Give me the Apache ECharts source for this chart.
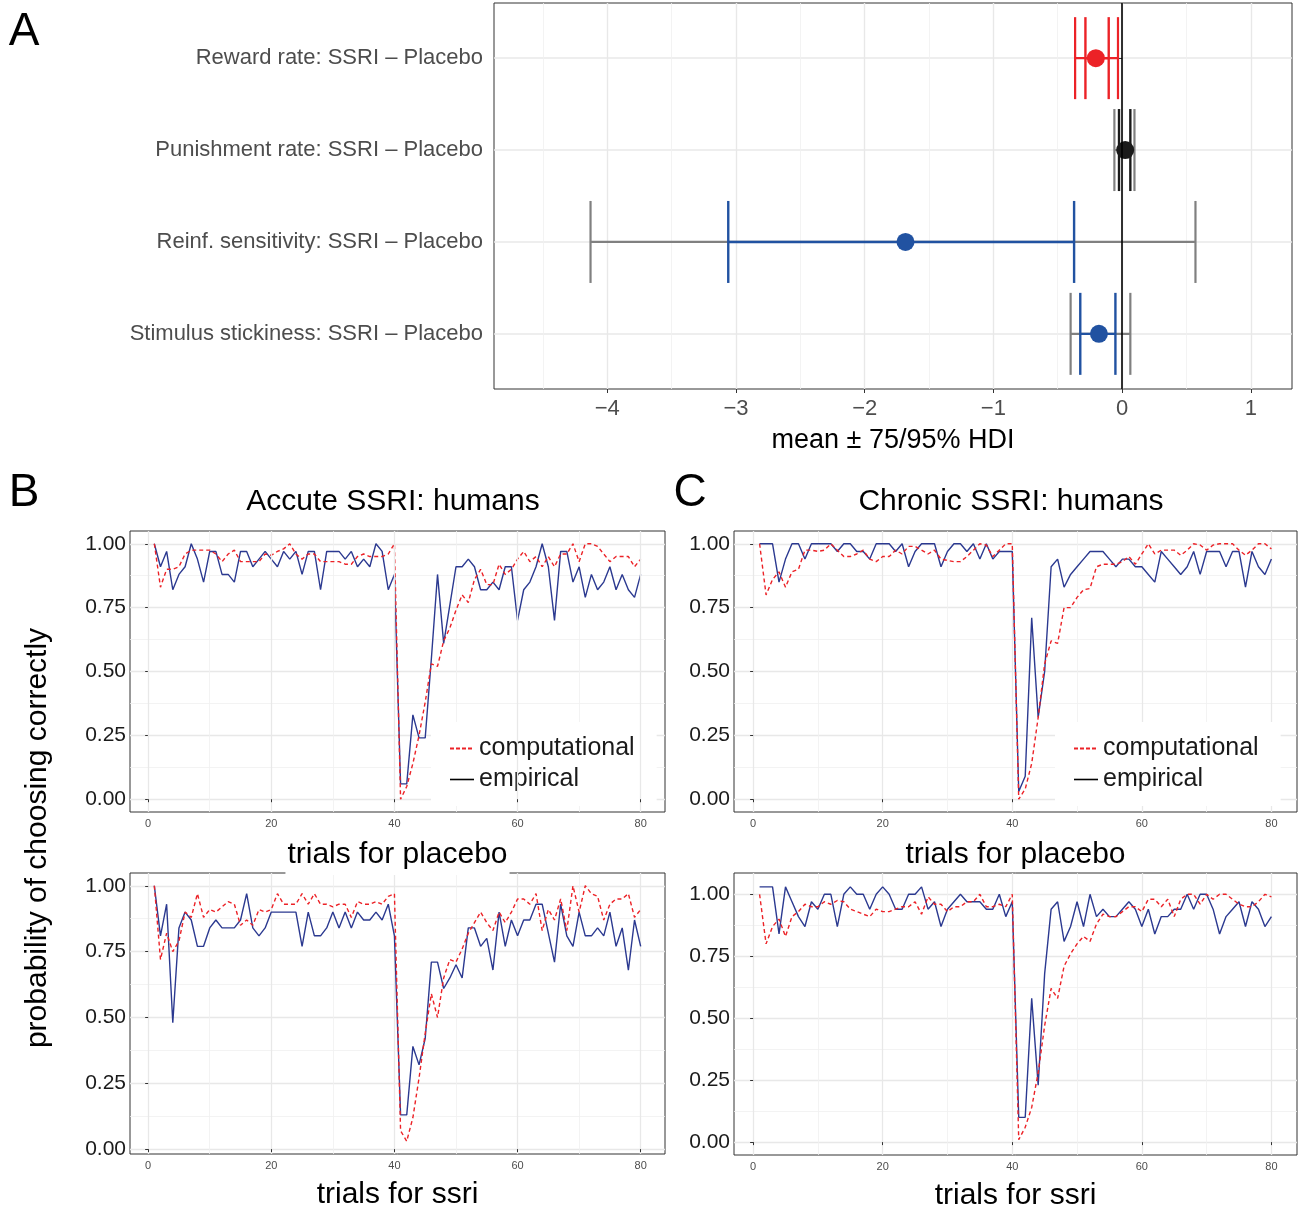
<!DOCTYPE html>
<html>
<head>
<meta charset="utf-8">
<script src="https://cdn.jsdelivr.net/npm/echarts@6/dist/echarts.min.js"></script>
<style>
  html, body { margin: 0; padding: 0; background: #fff; }
  #chart { width: 1298px; height: 1207px; }
</style>
</head>
<body>
<div id="chart"></div>
<script>
// ---- panel A: posterior differences ----
const rowLabels = [
  'Reward rate: SSRI \u2013 Placebo',
  'Punishment rate: SSRI \u2013 Placebo',
  'Reinf. sensitivity: SSRI \u2013 Placebo',
  'Stimulus stickiness: SSRI \u2013 Placebo'
]
const hdiMean = [-0.204, 0.024, -1.683, -0.18]
const hdi95Low = [-0.365, -0.06, -4.13, -0.40]
const hdi95High = [-0.032, 0.096, 0.57, 0.064]
const hdi75Low = [-0.285, -0.024, -3.06, -0.325]
const hdi75High = [-0.104, 0.064, -0.373, -0.052]
const hdiTicks = [-4, -3, -2, -1, 0, 1]
const hdiMinorTicks = [-4.5, -3.5, -2.5, -1.5, -0.5, 0.5]

// ---- panels B/C: probability of choosing correctly ----
const trials = Array.from({length: 80}, (_, i) => i + 1)
const trialTicks = [0, 20, 40, 60, 80]
const trialMinorTicks = [10, 30, 50, 70]
const probTicks = [0, 0.25, 0.5, 0.75, 1]
const probMinorTicks = [0.125, 0.375, 0.625, 0.875]

const acutePlaceboEmp = [1.0,0.91,0.97,0.82,0.88,0.91,1.0,0.94,0.85,0.97,
  0.97,0.88,0.88,0.85,0.97,0.97,0.91,0.94,0.97,0.94,
  0.91,0.97,0.94,0.97,0.88,0.97,0.97,0.82,0.97,0.97,
  0.97,0.94,0.97,0.91,0.94,0.91,1.0,0.97,0.82,0.88,
  0.06,0.06,0.33,0.24,0.24,0.55,0.88,0.61,0.76,0.91,
  0.91,0.94,0.91,0.82,0.82,0.85,0.82,0.91,0.91,0.70,
  0.82,0.85,0.91,1.0,0.91,0.70,0.97,0.97,0.85,0.91,
  0.79,0.88,0.82,0.85,0.91,0.82,0.88,0.82,0.79,0.88]
const acutePlaceboComp = [1.0,0.83,0.90,0.90,0.91,0.96,0.975,0.975,0.975,0.975,
  0.96,0.93,0.96,0.975,0.93,0.93,0.93,0.93,0.96,0.955,
  0.97,0.98,1.0,0.96,0.94,0.96,0.96,0.93,0.93,0.93,
  0.93,0.92,0.92,0.95,0.96,0.95,0.95,0.95,0.96,1.0,
  0.0,0.05,0.14,0.25,0.38,0.53,0.52,0.62,0.67,0.74,
  0.80,0.77,0.86,0.90,0.84,0.84,0.92,0.88,0.90,0.94,
  0.97,0.93,0.95,0.91,0.95,0.91,0.96,0.96,1.0,0.93,
  1.0,1.0,0.99,0.96,0.93,0.95,0.95,0.95,0.91,0.94]
const acuteSsriEmp = [1.0,0.81,0.93,0.48,0.84,0.90,0.87,0.77,0.77,0.84,
  0.87,0.84,0.84,0.84,0.87,0.97,0.84,0.81,0.84,0.90,
  0.90,0.90,0.90,0.90,0.77,0.90,0.81,0.81,0.84,0.90,
  0.84,0.90,0.84,0.90,0.87,0.87,0.90,0.87,0.93,0.81,
  0.13,0.13,0.39,0.32,0.42,0.71,0.71,0.61,0.65,0.70,
  0.65,0.84,0.84,0.77,0.80,0.68,0.90,0.77,0.87,0.81,
  0.87,0.87,0.93,0.93,0.82,0.71,0.93,0.81,0.77,0.90,
  0.81,0.81,0.84,0.81,0.90,0.77,0.84,0.68,0.87,0.77]
const acuteSsriComp = [1.0,0.72,0.82,0.75,0.79,0.90,0.88,0.97,0.88,0.91,
  0.90,0.92,0.94,0.93,0.85,0.87,0.85,0.91,0.90,0.91,
  0.97,0.93,0.93,0.93,0.97,0.93,0.97,0.93,0.93,0.92,
  0.93,0.93,0.88,0.94,0.93,0.93,0.94,0.93,0.96,0.97,
  0.07,0.03,0.12,0.27,0.44,0.59,0.50,0.65,0.72,0.71,
  0.76,0.82,0.86,0.90,0.86,0.83,0.90,0.86,0.90,0.95,
  0.95,0.93,0.97,0.83,0.91,0.87,0.95,0.83,1.0,0.90,
  1.0,0.97,0.96,0.87,0.93,0.95,0.95,0.97,0.88,0.91]
const chronicPlaceboEmp = [1.0,1.0,1.0,0.85,0.94,1.0,1.0,0.94,1.0,1.0,
  1.0,1.0,0.97,1.0,1.0,0.97,0.97,0.94,1.0,1.0,
  1.0,0.97,1.0,0.91,0.97,1.0,1.0,1.0,0.91,0.97,
  1.0,1.0,0.97,1.0,0.94,1.0,0.94,0.97,0.97,0.97,
  0.03,0.09,0.71,0.32,0.50,0.91,0.94,0.83,0.88,0.91,
  0.94,0.97,0.97,0.97,0.94,0.91,0.94,0.94,0.91,0.91,
  0.88,0.85,0.97,0.94,0.91,0.88,0.91,0.97,0.88,0.97,
  0.97,0.97,0.91,0.97,0.97,0.83,0.97,0.91,0.88,0.94]
const chronicPlaceboComp = [1.0,0.80,0.86,0.89,0.83,0.89,0.90,0.975,0.975,0.97,
  0.975,1.0,0.975,0.95,0.95,0.96,0.975,0.94,0.93,0.95,
  0.95,0.975,0.96,0.99,0.99,0.975,0.96,0.975,0.94,0.935,
  0.93,0.93,0.95,0.975,1.0,0.995,0.95,0.975,1.0,1.0,
  0.0,0.04,0.14,0.32,0.53,0.62,0.61,0.75,0.75,0.79,
  0.82,0.825,0.91,0.92,0.92,0.92,0.93,0.95,0.92,0.96,
  1.0,0.96,0.975,0.975,0.975,0.955,0.975,1.0,0.995,0.975,
  0.995,1.0,1.0,1.0,0.975,0.955,0.975,1.0,1.0,0.98]
const chronicSsriEmp = [1.03,1.03,1.03,0.84,1.03,0.97,0.91,0.87,0.97,0.94,
  1.0,1.0,0.87,1.0,1.03,1.0,1.0,0.94,1.0,1.03,
  1.0,0.94,0.94,1.0,1.0,1.03,0.94,0.97,0.87,0.94,
  0.97,1.0,0.97,0.97,0.97,0.94,0.94,1.0,0.91,0.97,
  0.10,0.10,0.58,0.23,0.68,0.94,0.97,0.81,0.87,0.97,
  0.87,1.0,0.91,0.94,0.91,0.91,0.94,0.97,0.94,0.87,
  0.94,0.84,0.91,0.91,0.94,0.94,1.0,0.94,1.0,1.0,
  0.94,0.84,0.91,0.94,0.97,0.87,0.97,0.94,0.87,0.91]
const chronicSsriComp = [1.0,0.80,0.87,0.90,0.83,0.91,0.93,0.96,0.95,0.95,
  0.97,0.96,0.975,0.97,0.94,0.93,0.92,0.91,0.94,0.93,
  0.93,0.94,0.95,0.95,0.97,0.92,0.99,0.96,0.96,0.93,
  0.95,0.95,0.97,0.97,1.0,0.95,0.95,0.96,0.95,1.0,
  0.01,0.06,0.14,0.28,0.47,0.62,0.58,0.71,0.76,0.80,
  0.83,0.81,0.88,0.92,0.91,0.91,0.93,0.95,0.95,0.93,
  0.98,0.98,0.95,0.98,0.91,0.98,1.0,1.0,0.96,1.0,
  0.98,1.0,1.0,0.98,0.96,0.95,0.95,0.97,1.0,0.99]

// styles
const FONT = "'Liberation Sans', Arial, Helvetica, sans-serif"
const RED = '#EC2227'
const BLUE = '#2152A1'
const NAVY = '#2B3990'
const GREY = '#808080'
const outerColors = [RED, GREY, GREY, GREY]
const innerColors = [RED, '#1A1A1A', BLUE, BLUE]
const GRID_MAJOR = '#E8E8E8'
const GRID_MINOR = '#F0F0F0'

const grids = []
const xAxes = []
const yAxes = []
const series = []

const fmtMinus = v => v < 0 ? '\u2212' + Math.abs(v) : String(v)

// ---------- panel A ----------
grids.push({left: 494, top: 3, width: 798, height: 386})
xAxes.push({
  type: 'value', gridIndex: 0, min: -4.88, max: 1.32,
  axisLine: {show: false},
  axisTick: {show: true, customValues: hdiTicks, length: 4, lineStyle: {color: '#333', width: 1}},
  axisLabel: {customValues: hdiTicks, formatter: fmtMinus, fontSize: 22, color: '#4D4D4D', fontFamily: FONT, margin: 9},
  splitLine: {show: true, lineStyle: {color: GRID_MAJOR, width: 1.4}},
  name: 'mean \u00b1 75/95% HDI', nameLocation: 'middle', nameGap: 38,
  nameTextStyle: {fontSize: 27, color: '#000', fontFamily: FONT}
})
xAxes.push({
  type: 'value', gridIndex: 0, min: -4.88, max: 1.32,
  axisLine: {show: false},
  axisTick: {show: false, customValues: hdiMinorTicks},
  axisLabel: {show: false, customValues: hdiMinorTicks},
  splitLine: {show: true, lineStyle: {color: GRID_MINOR, width: 0.8}}
})
yAxes.push({
  type: 'value', gridIndex: 0, min: 0.4, max: 4.6, inverse: true,
  axisLine: {show: false},
  axisTick: {show: true, customValues: [1, 2, 3, 4], length: 4, lineStyle: {color: '#333', width: 1}},
  axisLabel: {customValues: [1, 2, 3, 4], formatter: v => rowLabels[Math.round(v) - 1], fontSize: 22, color: '#4D4D4D', fontFamily: FONT, margin: 11},
  splitLine: {show: true, lineStyle: {color: GRID_MAJOR, width: 1.6}}
})

const barRenderer = (colors, cap, width) => (params, api) => {
  const lo = api.coord([api.value(0), api.value(2)])
  const hi = api.coord([api.value(1), api.value(2)])
  const style = {stroke: colors[params.dataIndex], lineWidth: width}
  return {
    type: 'group',
    children: [
      {type: 'line', shape: {x1: lo[0], y1: lo[1], x2: hi[0], y2: hi[1]}, style},
      {type: 'line', shape: {x1: lo[0], y1: lo[1] - cap, x2: lo[0], y2: lo[1] + cap}, style},
      {type: 'line', shape: {x1: hi[0], y1: hi[1] - cap, x2: hi[0], y2: hi[1] + cap}, style}
    ]
  }
}

series.push({
  type: 'line', xAxisIndex: 0, yAxisIndex: 0, data: [], z: 1, silent: true,
  markLine: {
    silent: true, symbol: ['none', 'none'], label: {show: false},
    lineStyle: {color: '#000', width: 1.6, type: 'solid'},
    data: [{xAxis: 0}]
  }
})
series.push({
  type: 'custom', xAxisIndex: 0, yAxisIndex: 0, z: 2,
  encode: {x: [0, 1], y: 2},
  data: hdi95Low.map((lo, i) => [lo, hdi95High[i], i + 1]),
  renderItem: barRenderer(outerColors, 41, 2.2)
})
series.push({
  type: 'custom', xAxisIndex: 0, yAxisIndex: 0, z: 3,
  encode: {x: [0, 1], y: 2},
  data: hdi75Low.map((lo, i) => [lo, hdi75High[i], i + 1]),
  renderItem: barRenderer(innerColors, 41, 2.4)
})
series.push({
  type: 'scatter', xAxisIndex: 0, yAxisIndex: 0, z: 4, symbolSize: 18,
  data: hdiMean.map((m, i) => ({value: [m, i + 1], itemStyle: {color: innerColors[i], opacity: 1}}))
})

// ---------- panels B / C ----------
const panels = [
  {left: 130, top: 531, width: 535, height: 281, yMin: -0.05, yMax: 1.05, xName: 'trials for placebo', nameGap: 28, emp: acutePlaceboEmp, comp: acutePlaceboComp, cover: true},
  {left: 130, top: 873, width: 535, height: 281, yMin: -0.0185, yMax: 1.0485, xName: 'trials for ssri', nameGap: 26, emp: acuteSsriEmp, comp: acuteSsriComp},
  {left: 734, top: 531, width: 563, height: 281, yMin: -0.05, yMax: 1.05, xName: 'trials for placebo', nameGap: 28, emp: chronicPlaceboEmp, comp: chronicPlaceboComp},
  {left: 734, top: 873, width: 563, height: 282, yMin: -0.052, yMax: 1.086, xName: 'trials for ssri', nameGap: 26, emp: chronicSsriEmp, comp: chronicSsriComp}
]

panels.forEach(p => {
  const g = grids.length
  grids.push({left: p.left, top: p.top, width: p.width, height: p.height})
  const xi = xAxes.length
  xAxes.push({
    type: 'value', gridIndex: g, min: -2.95, max: 83.95, z: p.cover ? 10 : 0,
    axisLine: {show: false},
    axisTick: {show: true, customValues: trialTicks, length: 3, lineStyle: {color: '#333', width: 1}},
    axisLabel: {customValues: trialTicks, fontSize: 11, color: '#4D4D4D', fontFamily: FONT, margin: 6},
    splitLine: {show: true, lineStyle: {color: GRID_MAJOR, width: 1.3}},
    name: p.xName, nameLocation: 'middle', nameGap: p.nameGap,
    nameTextStyle: Object.assign({fontSize: 30, color: '#000', fontFamily: FONT},
      p.cover ? {backgroundColor: '#fff', padding: [0, 2, 5, 2]} : {})
  })
  xAxes.push({
    type: 'value', gridIndex: g, min: -2.95, max: 83.95,
    axisLine: {show: false},
    axisTick: {show: false, customValues: trialMinorTicks},
    axisLabel: {show: false, customValues: trialMinorTicks},
    splitLine: {show: true, lineStyle: {color: GRID_MINOR, width: 0.8}}
  })
  const yi = yAxes.length
  yAxes.push({
    type: 'value', gridIndex: g, min: p.yMin, max: p.yMax,
    axisLine: {show: false},
    axisTick: {show: true, customValues: probTicks, length: 3, lineStyle: {color: '#333', width: 1}},
    axisLabel: {customValues: probTicks, formatter: v => v.toFixed(2), fontSize: 21, color: '#1A1A1A', fontFamily: FONT, margin: 4},
    splitLine: {show: true, lineStyle: {color: GRID_MAJOR, width: 1.3}}
  })
  yAxes.push({
    type: 'value', gridIndex: g, min: p.yMin, max: p.yMax,
    axisLine: {show: false},
    axisTick: {show: false, customValues: probMinorTicks},
    axisLabel: {show: false, customValues: probMinorTicks},
    splitLine: {show: true, lineStyle: {color: GRID_MINOR, width: 0.8}}
  })
  series.push({
    type: 'line', name: 'empirical', xAxisIndex: xi, yAxisIndex: yi, z: 3,
    symbol: 'none', data: trials.map((t, i) => [t, p.emp[i]]),
    lineStyle: {color: NAVY, width: 1.4}, itemStyle: {color: NAVY}
  })
  series.push({
    type: 'line', name: 'computational', xAxisIndex: xi, yAxisIndex: yi, z: 4,
    symbol: 'none', data: trials.map((t, i) => [t, p.comp[i]]),
    lineStyle: {color: RED, width: 1.4, type: [4, 3]}, itemStyle: {color: RED}
  })
})

grids.forEach(g => Object.assign(g, {show: true, borderColor: '#333', borderWidth: 1, backgroundColor: 'transparent', containLabel: false, outerBoundsMode: 'none'}))

const legendItems = [
  {name: 'computational', itemStyle: {color: RED, opacity: 0, borderWidth: 0}, lineStyle: {color: RED, width: 2, type: [4, 2]}},
  {name: 'empirical', itemStyle: {color: '#000', opacity: 0, borderWidth: 0}, lineStyle: {color: '#000', width: 1.6, type: 'solid'}}
]
const makeLegend = left => ({
  data: legendItems, left, top: 722, orient: 'vertical', selectedMode: false,
  backgroundColor: '#fff', padding: [14, 22, 14, 18],
  itemWidth: 24, itemHeight: 14, itemGap: 6,
  textStyle: {fontSize: 25, color: '#1A1A1A', fontFamily: FONT, lineHeight: 24}
})

const text = (x, y, str, size, extra) => ({
  type: 'text', x, y, silent: true,
  style: Object.assign({text: str, fontSize: size, fontFamily: FONT, fill: '#000', textAlign: 'center', textVerticalAlign: 'middle'}, extra || {})
})

const chart = echarts.init(document.getElementById('chart'), null, {renderer: 'canvas'})
chart.setOption({
  animation: false,
  backgroundColor: '#fff',
  textStyle: {fontFamily: FONT},
  grid: grids,
  xAxis: xAxes,
  yAxis: yAxes,
  legend: [makeLegend(431), makeLegend(1055)],
  series,
  graphic: [
    text(24, 32, 'A', 46),
    text(24, 493, 'B', 46),
    text(690, 493, 'C', 46),
    text(393, 502, 'Accute SSRI: humans', 30),
    text(1011, 502, 'Chronic SSRI: humans', 30),
    Object.assign(text(38, 838, 'probability of choosing correctly', 30), {rotation: Math.PI / 2})
  ]
})
</script>
</body>
</html>
